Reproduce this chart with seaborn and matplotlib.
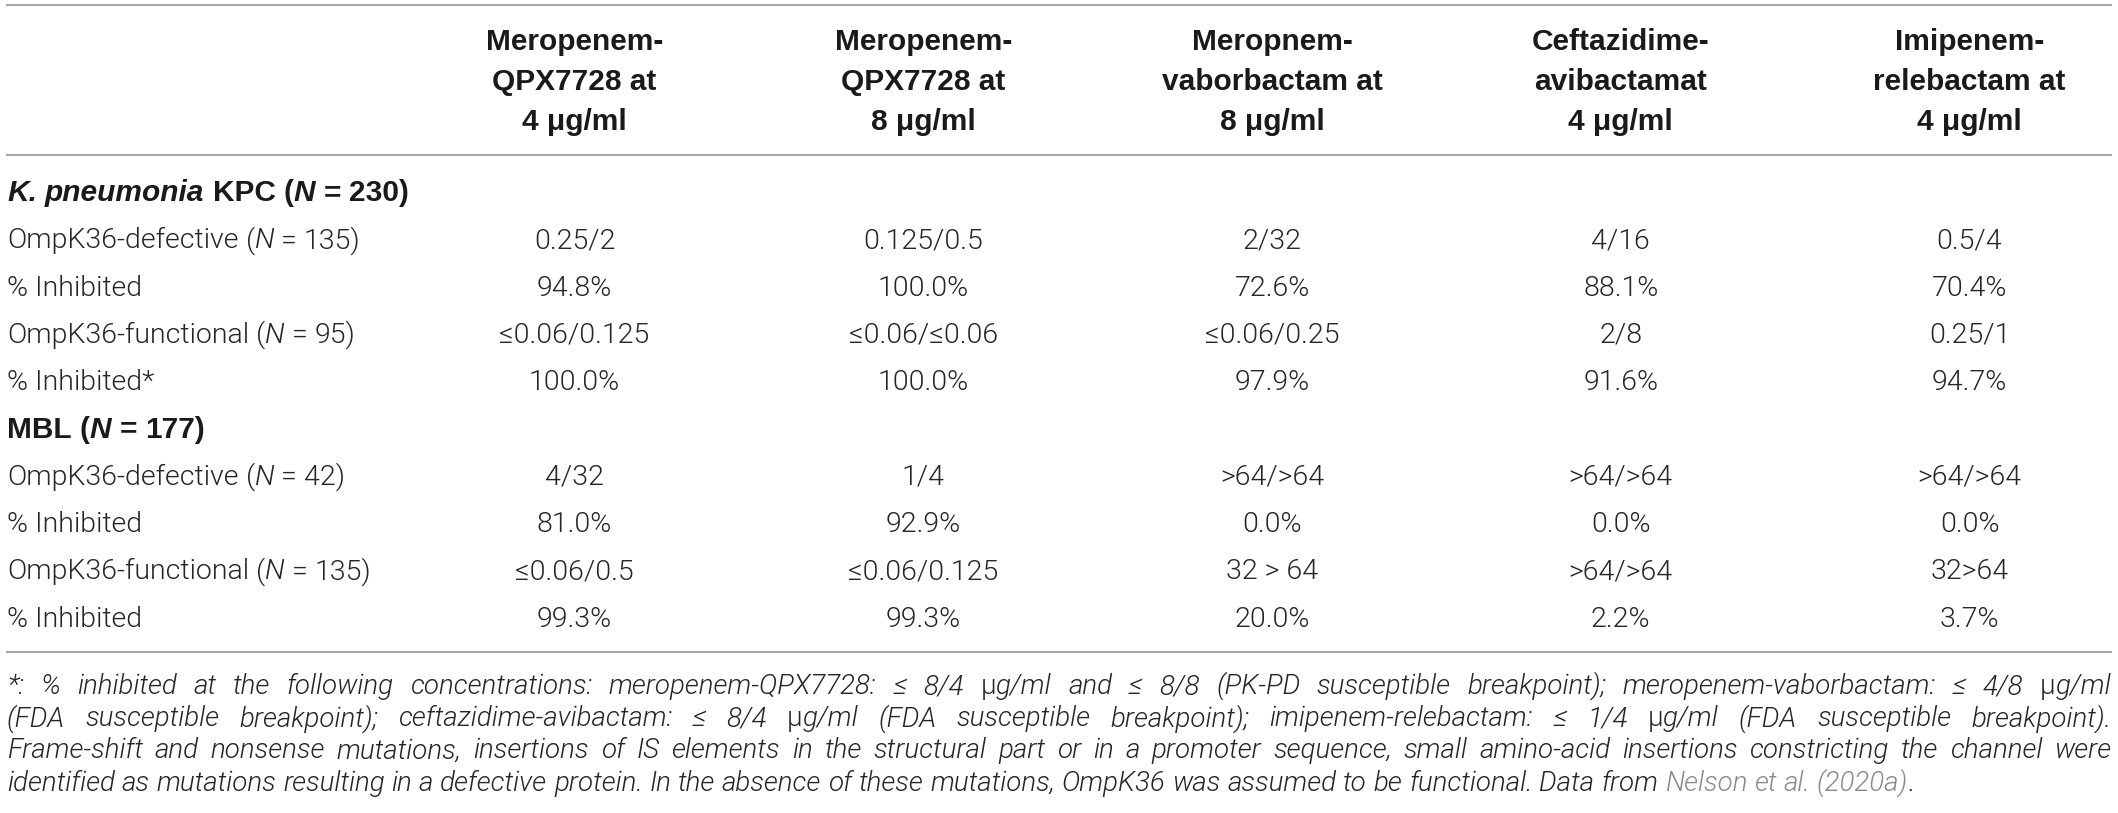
import numpy as np
import matplotlib
matplotlib.use("Agg")
import matplotlib.pyplot as plt
from matplotlib import font_manager
from matplotlib.colors import ListedColormap
from matplotlib.transforms import Affine2D, blended_transform_factory
import seaborn as sns

# column headers (one list of lines per drug)
drug_headers = [
    ["Meropenem-", "QPX7728 at", "4 μg/ml"],
    ["Meropenem-", "QPX7728 at", "8 μg/ml"],
    ["Meropnem-", "vaborbactam at", "8 μg/ml"],
    ["Ceftazidime-", "avibactamat", "4 μg/ml"],
    ["Imipenem-", "relebactam at", "4 μg/ml"],
]

# row labels as (text, style) runs; group rows are bold
kpc_title = [("K. pneumonia", "bi"), (" KPC (", "b"), ("N", "bi"), (" = 230)", "b")]
mbl_title = [("MBL (", "b"), ("N", "bi"), (" = 177)", "b")]
kpc_rows = [
    [("OmpK36-defective (", "r"), ("N", "i"), (" = 135)", "r")],
    [("% Inhibited", "r")],
    [("OmpK36-functional (", "r"), ("N", "i"), (" = 95)", "r")],
    [("% Inhibited*", "r")],
]
mbl_rows = [
    [("OmpK36-defective (", "r"), ("N", "i"), (" = 42)", "r")],
    [("% Inhibited", "r")],
    [("OmpK36-functional (", "r"), ("N", "i"), (" = 135)", "r")],
    [("% Inhibited", "r")],
]

# MIC50/MIC90 and % inhibited per drug column
kpc_def_mic = ["0.25/2", "0.125/0.5", "2/32", "4/16", "0.5/4"]
kpc_def_pct = ["94.8%", "100.0%", "72.6%", "88.1%", "70.4%"]
kpc_fun_mic = ["≤0.06/0.125", "≤0.06/≤0.06", "≤0.06/0.25", "2/8", "0.25/1"]
kpc_fun_pct = ["100.0%", "100.0%", "97.9%", "91.6%", "94.7%"]
mbl_def_mic = ["4/32", "1/4", ">64/>64", ">64/>64", ">64/>64"]
mbl_def_pct = ["81.0%", "92.9%", "0.0%", "0.0%", "0.0%"]
mbl_fun_mic = ["≤0.06/0.5", "≤0.06/0.125", "32 > 64", ">64/>64", "32>64"]
mbl_fun_pct = ["99.3%", "99.3%", "20.0%", "2.2%", "3.7%"]

# footnote, one entry per printed line (last line is not justified)
footnote_lines = [
    [("*: % inhibited at the following concentrations: meropenem-QPX7728: ≤ 8/4 ", "fi"), ("μ", "fr"),
     ("g/ml and ≤ 8/8 (PK-PD susceptible breakpoint); meropenem-vaborbactam: ≤ 4/8 ", "fi"), ("μ", "fr"),
     ("g/ml", "fi")],
    [("(FDA susceptible breakpoint); ceftazidime-avibactam: ≤ 8/4 ", "fi"), ("μ", "fr"),
     ("g/ml (FDA susceptible breakpoint); imipenem-relebactam: ≤ 1/4 ", "fi"), ("μ", "fr"),
     ("g/ml (FDA susceptible breakpoint).", "fi")],
    [("Frame-shift and nonsense mutations, insertions of IS elements in the structural part or in a "
      "promoter sequence, small amino-acid insertions constricting the channel were", "fi")],
    [("identified as mutations resulting in a defective protein. In the absence of these mutations, "
      "OmpK36 was assumed to be functional. Data from ", "fi"), ("Nelson et al. (2020a)", "link"), (".", "fi")],
]

W, H = 2118, 813
INK = "#262626"
RULE = "#a6a6a6"
BODY = 20.5
FOOT = 20
HEAD = 21.5


def light_family():
    # a family that ships a real light weight, closest to Helvetica Neue Light
    for fam in ["Roboto", "Inter", "Lato", "Open Sans", "Noto Sans"]:
        for f in font_manager.fontManager.ttflist:
            w = f.weight if isinstance(f.weight, int) else font_manager.weight_dict.get(f.weight, 400)
            if f.name == fam and w <= 300:
                return fam
    return "Roboto"


sns.set_theme(style="white")
LIGHT = light_family()
plt.rcParams["font.family"] = [LIGHT, "DejaVu Sans"]
BOLD_FAM = ["Liberation Sans", "DejaVu Sans"]

STYLES = {
    "r": dict(fontsize=BODY, fontweight=300, fontstyle="normal", color=INK),
    "i": dict(fontsize=BODY, fontweight=300, fontstyle="italic", color=INK),
    "b": dict(fontsize=HEAD, fontweight="bold", fontstyle="normal", color="#1a1a1a", family=BOLD_FAM),
    "bi": dict(fontsize=HEAD, fontweight="bold", fontstyle="italic", color="#1a1a1a", family=BOLD_FAM),
    "fi": dict(fontsize=FOOT, fontweight=300, fontstyle="italic", color=INK),
    "fr": dict(fontsize=FOOT, fontweight=300, fontstyle="normal", color=INK),
    "link": dict(fontsize=FOOT, fontweight=300, fontstyle="italic", color="#8a8a8a"),
}

fig = plt.figure(figsize=(W / 100, H / 100), dpi=100)
ax = fig.add_axes([0, 0, 1, 1])
renderer = fig.canvas.get_renderer()
pix = Affine2D().scale(1, -1).translate(0, H)  # pixel coords, y down

# body cells through seaborn's heatmap grid (group rows masked)
body = [kpc_def_mic, kpc_def_pct, kpc_fun_mic, kpc_fun_pct,
        mbl_def_mic, mbl_def_pct, mbl_fun_mic, mbl_fun_pct]
annot = np.array([[""] * 5] + body[:4] + [[""] * 5] + body[4:], dtype=object)
mask = np.zeros(annot.shape, dtype=bool)
mask[[0, 5], :] = True
sns.heatmap(np.zeros(annot.shape), mask=mask, annot=annot, fmt="", cbar=False,
            cmap=ListedColormap(["white"]), xticklabels=False, yticklabels=False, ax=ax,
            annot_kws=dict(va="baseline", ha="center", **STYLES["r"]))

# map heatmap cells onto the page: column centres and row baselines
col0, col_step = 574.5, 348.75
row0, row_step = 201, 47.3
ax.set_xlim(0.5 - col0 / col_step, 0.5 + (W - col0) / col_step)
ax.set_ylim(0.5 + (H - row0) / row_step, 0.5 - row0 / row_step)
ax.axis("off")

_space = {}


def measure(text, st):
    t = ax.text(0, 0, text, transform=pix, **STYLES[st])
    w = t.get_window_extent(renderer).width
    t.remove()
    return w


def space_width(st):
    if st not in _space:
        _space[st] = measure("n n", st) - measure("nn", st)
    return _space[st]


def words_of(frags):
    words = [[]]
    for text, st in frags:
        for k, part in enumerate(text.split(" ")):
            if k > 0:
                words.append([])
            if part:
                words[-1].append((part, st))
    return [w for w in words if w]


def draw_line(frags, x0, y, x1=None):
    words = words_of(frags)
    widths = [[measure(p, s) for p, s in w] for w in words]
    gaps = [space_width(w[-1][1]) for w in words[:-1]]
    if x1 is not None and len(words) > 1:
        g = (x1 - x0 - sum(sum(ws) for ws in widths)) / (len(words) - 1)
        gaps = [g] * (len(words) - 1)
    x = x0
    for k, (w, ws) in enumerate(zip(words, widths)):
        for (p, s), wi in zip(w, ws):
            ax.text(x, y, p, transform=pix, ha="left", va="baseline", **STYLES[s])
            x += wi
        if k < len(gaps):
            x += gaps[k]


# header
col_tr = blended_transform_factory(ax.transData, pix)
for i, lines in enumerate(drug_headers):
    for k, line in enumerate(lines):
        ax.text(i + 0.5, 50 + 39.8 * k, line, transform=col_tr, ha="center", va="baseline",
                **STYLES["b"])

# row labels
labels = [kpc_title] + kpc_rows + [mbl_title] + mbl_rows
for j, frags in enumerate(labels):
    draw_line(frags, 7, row0 + row_step * j)

# rules
for y in (5, 155, 652):
    ax.plot([6, 2112], [y, y], transform=pix, color=RULE, lw=1.5, solid_capstyle="butt", zorder=5)

# footnote, justified except the last line
for k, frags in enumerate(footnote_lines):
    last = k == len(footnote_lines) - 1
    draw_line(frags, 7, 694 + 32.2 * k, None if last else 2111)

fig.savefig("out.png", dpi=100, facecolor="white")
